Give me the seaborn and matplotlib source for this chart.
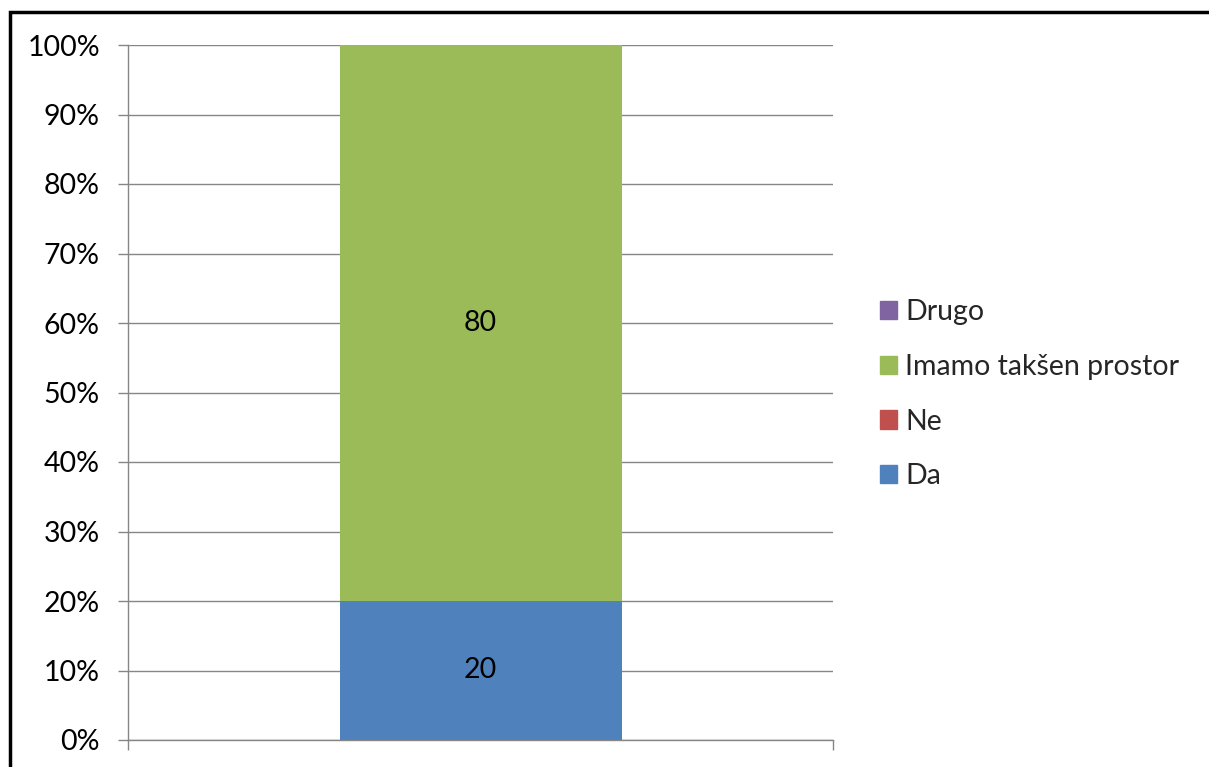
import matplotlib
matplotlib.use("Agg")
import matplotlib.pyplot as plt
import matplotlib.patches as mpatches
import seaborn as sns
import pandas as pd
import numpy as np

categories = [""]
series_names = ["Da", "Ne", "Imamo takšen prostor", "Drugo"]
da = [20]
ne = [0]
imamo = [80]
drugo = [0]
colors = ["#4F81BD", "#C0504D", "#9BBB59", "#8064A2"]
yticks = [0, 10, 20, 30, 40, 50, 60, 70, 80, 90, 100]
ytick_labels = [f"{v}%" for v in yticks]

sns.set_theme(style="white")
plt.rcParams["font.family"] = ["Lato", "DejaVu Sans"]

FS = 20.5

values = np.array([da, ne, imamo, drugo], dtype=float)
totals = values.sum(axis=0)
pct = values / totals * 100
cum = np.cumsum(pct, axis=0)

fig = plt.figure(figsize=(12.09, 7.67), dpi=100)
ax = fig.add_axes([128 / 1209, 1 - 740 / 767, (833 - 128) / 1209, (740 - 45) / 767])

gray = "#868686"
ax.set_axisbelow(True)
ax.yaxis.grid(True, color=gray, linewidth=1.0)

# draw from top of stack down so lower segments overlay
for i in range(len(series_names) - 1, -1, -1):
    df = pd.DataFrame({"cat": categories, "val": cum[i]})
    sns.barplot(data=df, x="cat", y="val", color=colors[i], width=0.4,
                saturation=1, ax=ax, edgecolor="none", linewidth=0, zorder=2)

# data labels
for i, name in enumerate(series_names):
    for j, c in enumerate(categories):
        v = values[i, j]
        if v > 0:
            mid = cum[i, j] - pct[i, j] / 2
            ax.text(j, mid, f"{v:g}", ha="center", va="center", fontsize=FS, color="black", zorder=3)

ax.set_xlim(-0.5, 0.5)
ax.set_ylim(0, 100)
ax.set_yticks(yticks)
ax.set_yticklabels(ytick_labels, fontsize=FS, color="black")
ax.set_xticks([-0.5, 0.5])
ax.set_xticklabels(["", ""])
ax.set_xlabel("")
ax.set_ylabel("")
ax.tick_params(axis="y", direction="out", length=7.2, width=1, color=gray, pad=13, left=True)
ax.tick_params(axis="x", direction="out", length=7.2, width=1, color=gray, bottom=True)
for s in ["top", "right"]:
    ax.spines[s].set_visible(False)
for s in ["left", "bottom"]:
    ax.spines[s].set_color(gray)
    ax.spines[s].set_linewidth(1)

handles = [mpatches.Patch(color=colors[i], label=series_names[i]) for i in range(len(series_names) - 1, -1, -1)]
fig.legend(handles=handles, loc="upper left", bbox_to_anchor=(880 / 1209, 1 - 299 / 767),
           frameon=False, fontsize=FS, handlelength=0.6, handleheight=0.6,
           handletextpad=0.29, labelspacing=1.01, borderpad=0, borderaxespad=0)

frame = mpatches.Rectangle((10 / 1209, -0.1), 1.2, 1 - 12 / 767 + 0.1, transform=fig.transFigure,
                           fill=False, edgecolor="black", linewidth=2.5, clip_on=False)
fig.add_artist(frame)

fig.savefig("out.png", dpi=100, facecolor="white")
